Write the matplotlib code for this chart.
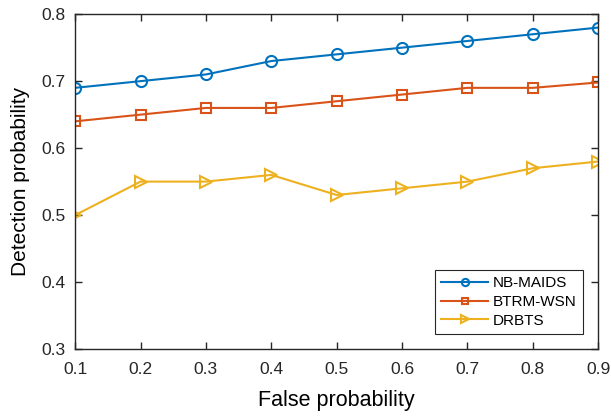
import matplotlib
matplotlib.use('Agg')
import matplotlib.pyplot as plt

plt.rcParams['font.family'] = ['Liberation Sans', 'DejaVu Sans']

# Data
false_prob = [0.1, 0.2, 0.3, 0.4, 0.5, 0.6, 0.7, 0.8, 0.9]
nb_maids = [0.69, 0.70, 0.71, 0.73, 0.74, 0.75, 0.76, 0.77, 0.78]
btrm_wsn = [0.64, 0.65, 0.66, 0.66, 0.67, 0.68, 0.69, 0.69, 0.698]
drbts = [0.50, 0.55, 0.55, 0.56, 0.53, 0.54, 0.55, 0.57, 0.58]

x_ticks = [0.1, 0.2, 0.3, 0.4, 0.5, 0.6, 0.7, 0.8, 0.9]
y_ticks = [0.3, 0.4, 0.5, 0.6, 0.7, 0.8]

fig = plt.figure(figsize=(6.11, 4.17), dpi=100)
ax = fig.add_axes([0.123, 0.163, 0.856, 0.803])

ax.plot(false_prob, nb_maids, color='#0072BD', marker='o', markersize=8,
        markerfacecolor='none', markeredgewidth=1.5, linewidth=1.5, label='NB-MAIDS')
ax.plot(false_prob, btrm_wsn, color='#D95319', marker='s', markersize=7,
        markerfacecolor='none', markeredgewidth=1.5, linewidth=1.5, label='BTRM-WSN')
ax.plot(false_prob, drbts, color='#EDB120', marker='>', markersize=9,
        markerfacecolor='none', markeredgewidth=1.5, linewidth=1.5, label='DRBTS')

ax.set_xlim(0.1, 0.9)
ax.set_ylim(0.3, 0.8)
ax.set_xticks(x_ticks)
ax.set_yticks(y_ticks)
ax.set_xticklabels([f'{v:.1f}' for v in x_ticks])
ax.set_yticklabels([f'{v:.1f}' for v in y_ticks])

ax.tick_params(direction='in', top=True, right=True, length=5, width=1,
               labelsize=12.5, colors='#262626')
ax.tick_params(axis='x', pad=9)
ax.tick_params(axis='y', pad=7)
for s in ax.spines.values():
    s.set_color('#262626')
    s.set_linewidth(1)

ax.set_xlabel('False probability', fontsize=15.5, color='#000000', labelpad=10)
ax.set_ylabel('Detection probability', fontsize=15, color='#000000', labelpad=8)

leg = ax.legend(loc='lower right', fontsize=11, fancybox=False, framealpha=1,
                edgecolor='#262626', borderaxespad=1.0, handlelength=3.1,
                handletextpad=0.3, markerscale=0.65,
                labelspacing=0.3, borderpad=0.4)
leg.get_frame().set_linewidth(0.8)

fig.savefig('out.png', dpi=100)
